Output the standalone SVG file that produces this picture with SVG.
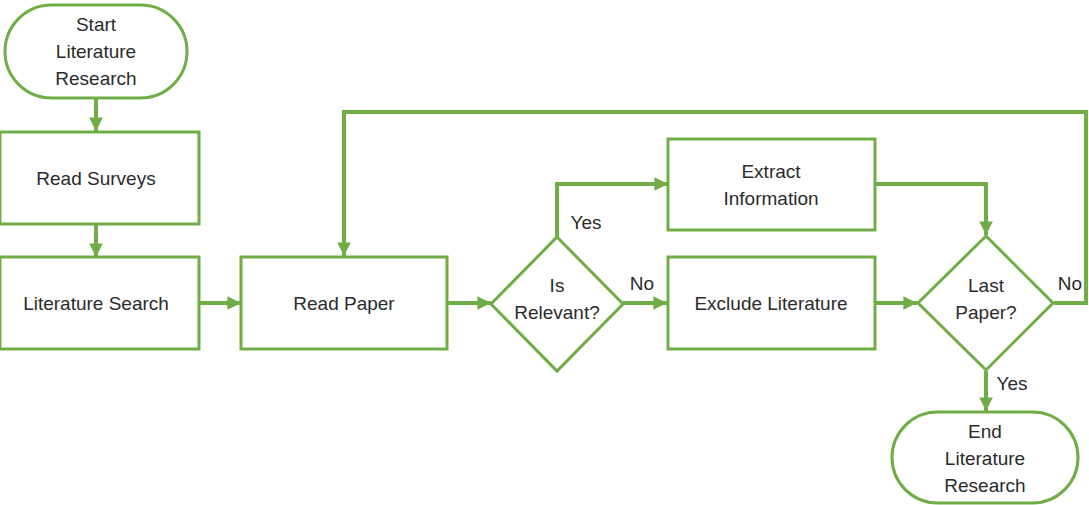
<svg xmlns="http://www.w3.org/2000/svg" width="1089" height="505" viewBox="0 0 1089 505">
  <style>
    .node { fill: #ffffff; stroke: #70ad47; stroke-width: 3; }
    .edge { fill: none; stroke: #70ad47; stroke-width: 4; }
    text { font-family: "Liberation Sans", Arial, sans-serif; font-size: 19px; fill: #2b2b2b; text-anchor: middle; dominant-baseline: central; }
  </style>
  <defs>
    <marker id="arrow" viewBox="0 0 10 10" refX="10" refY="5" markerWidth="3.4" markerHeight="3.4" markerUnits="strokeWidth" orient="auto">
      <path d="M0,0 L10,5 L0,10 z" fill="#70ad47"/>
    </marker>
  </defs>
  <rect width="1089" height="505" fill="#ffffff"/>

  <!-- connectors -->
  <g id="connectors">
    <path class="edge" d="M96,99 V131" marker-end="url(#arrow)"/>
    <path class="edge" d="M96,225 V257" marker-end="url(#arrow)"/>
    <path class="edge" d="M200,303 H241" marker-end="url(#arrow)"/>
    <path class="edge" d="M448,303 H491" marker-end="url(#arrow)"/>
    <path class="edge" d="M557,238 V184 H668" marker-end="url(#arrow)"/>
    <path class="edge" d="M623,303 H667" marker-end="url(#arrow)"/>
    <path class="edge" d="M876,184 H986 V235" marker-end="url(#arrow)"/>
    <path class="edge" d="M876,303 H917" marker-end="url(#arrow)"/>
    <path class="edge" d="M1054,303 H1086 V112 H344 V256" marker-end="url(#arrow)"/>
    <path class="edge" d="M986,371 V411" marker-end="url(#arrow)"/>
    <text x="586" y="222">Yes</text>
    <text x="642" y="283">No</text>
    <text x="1070" y="283">No</text>
    <text x="1012" y="383">Yes</text>
  </g>

  <g id="start">
    <rect class="node" x="5" y="5" width="182" height="93" rx="46.5" ry="46.5"/>
    <text x="96" y="24">Start</text>
    <text x="96" y="51">Literature</text>
    <text x="96" y="78">Research</text>
  </g>

  <g id="read-surveys">
    <rect class="node" x="0" y="132" width="199" height="92"/>
    <text x="96" y="178">Read Surveys</text>
  </g>

  <g id="literature-search">
    <rect class="node" x="0" y="257" width="199" height="92"/>
    <text x="96" y="303">Literature Search</text>
  </g>

  <g id="read-paper">
    <rect class="node" x="241" y="257" width="206" height="92"/>
    <text x="344" y="303">Read Paper</text>
  </g>

  <g id="is-relevant">
    <path class="node" d="M557,237 L623,304 L557,371 L491,304 z"/>
    <text x="557" y="285">Is</text>
    <text x="557" y="312">Relevant?</text>
  </g>

  <g id="extract-information">
    <rect class="node" x="668" y="139" width="207" height="91"/>
    <text x="771" y="171">Extract</text>
    <text x="771" y="198">Information</text>
  </g>

  <g id="exclude-literature">
    <rect class="node" x="668" y="257" width="207" height="92"/>
    <text x="771" y="303">Exclude Literature</text>
  </g>

  <g id="last-paper">
    <path class="node" d="M986,236 L1053,303 L986,370 L918,303 z"/>
    <text x="986" y="285">Last</text>
    <text x="986" y="312">Paper?</text>
  </g>

  <g id="end">
    <rect class="node" x="892" y="412" width="186" height="91" rx="45.5" ry="45.5"/>
    <text x="985" y="431">End</text>
    <text x="985" y="458">Literature</text>
    <text x="985" y="485">Research</text>
  </g>
</svg>
